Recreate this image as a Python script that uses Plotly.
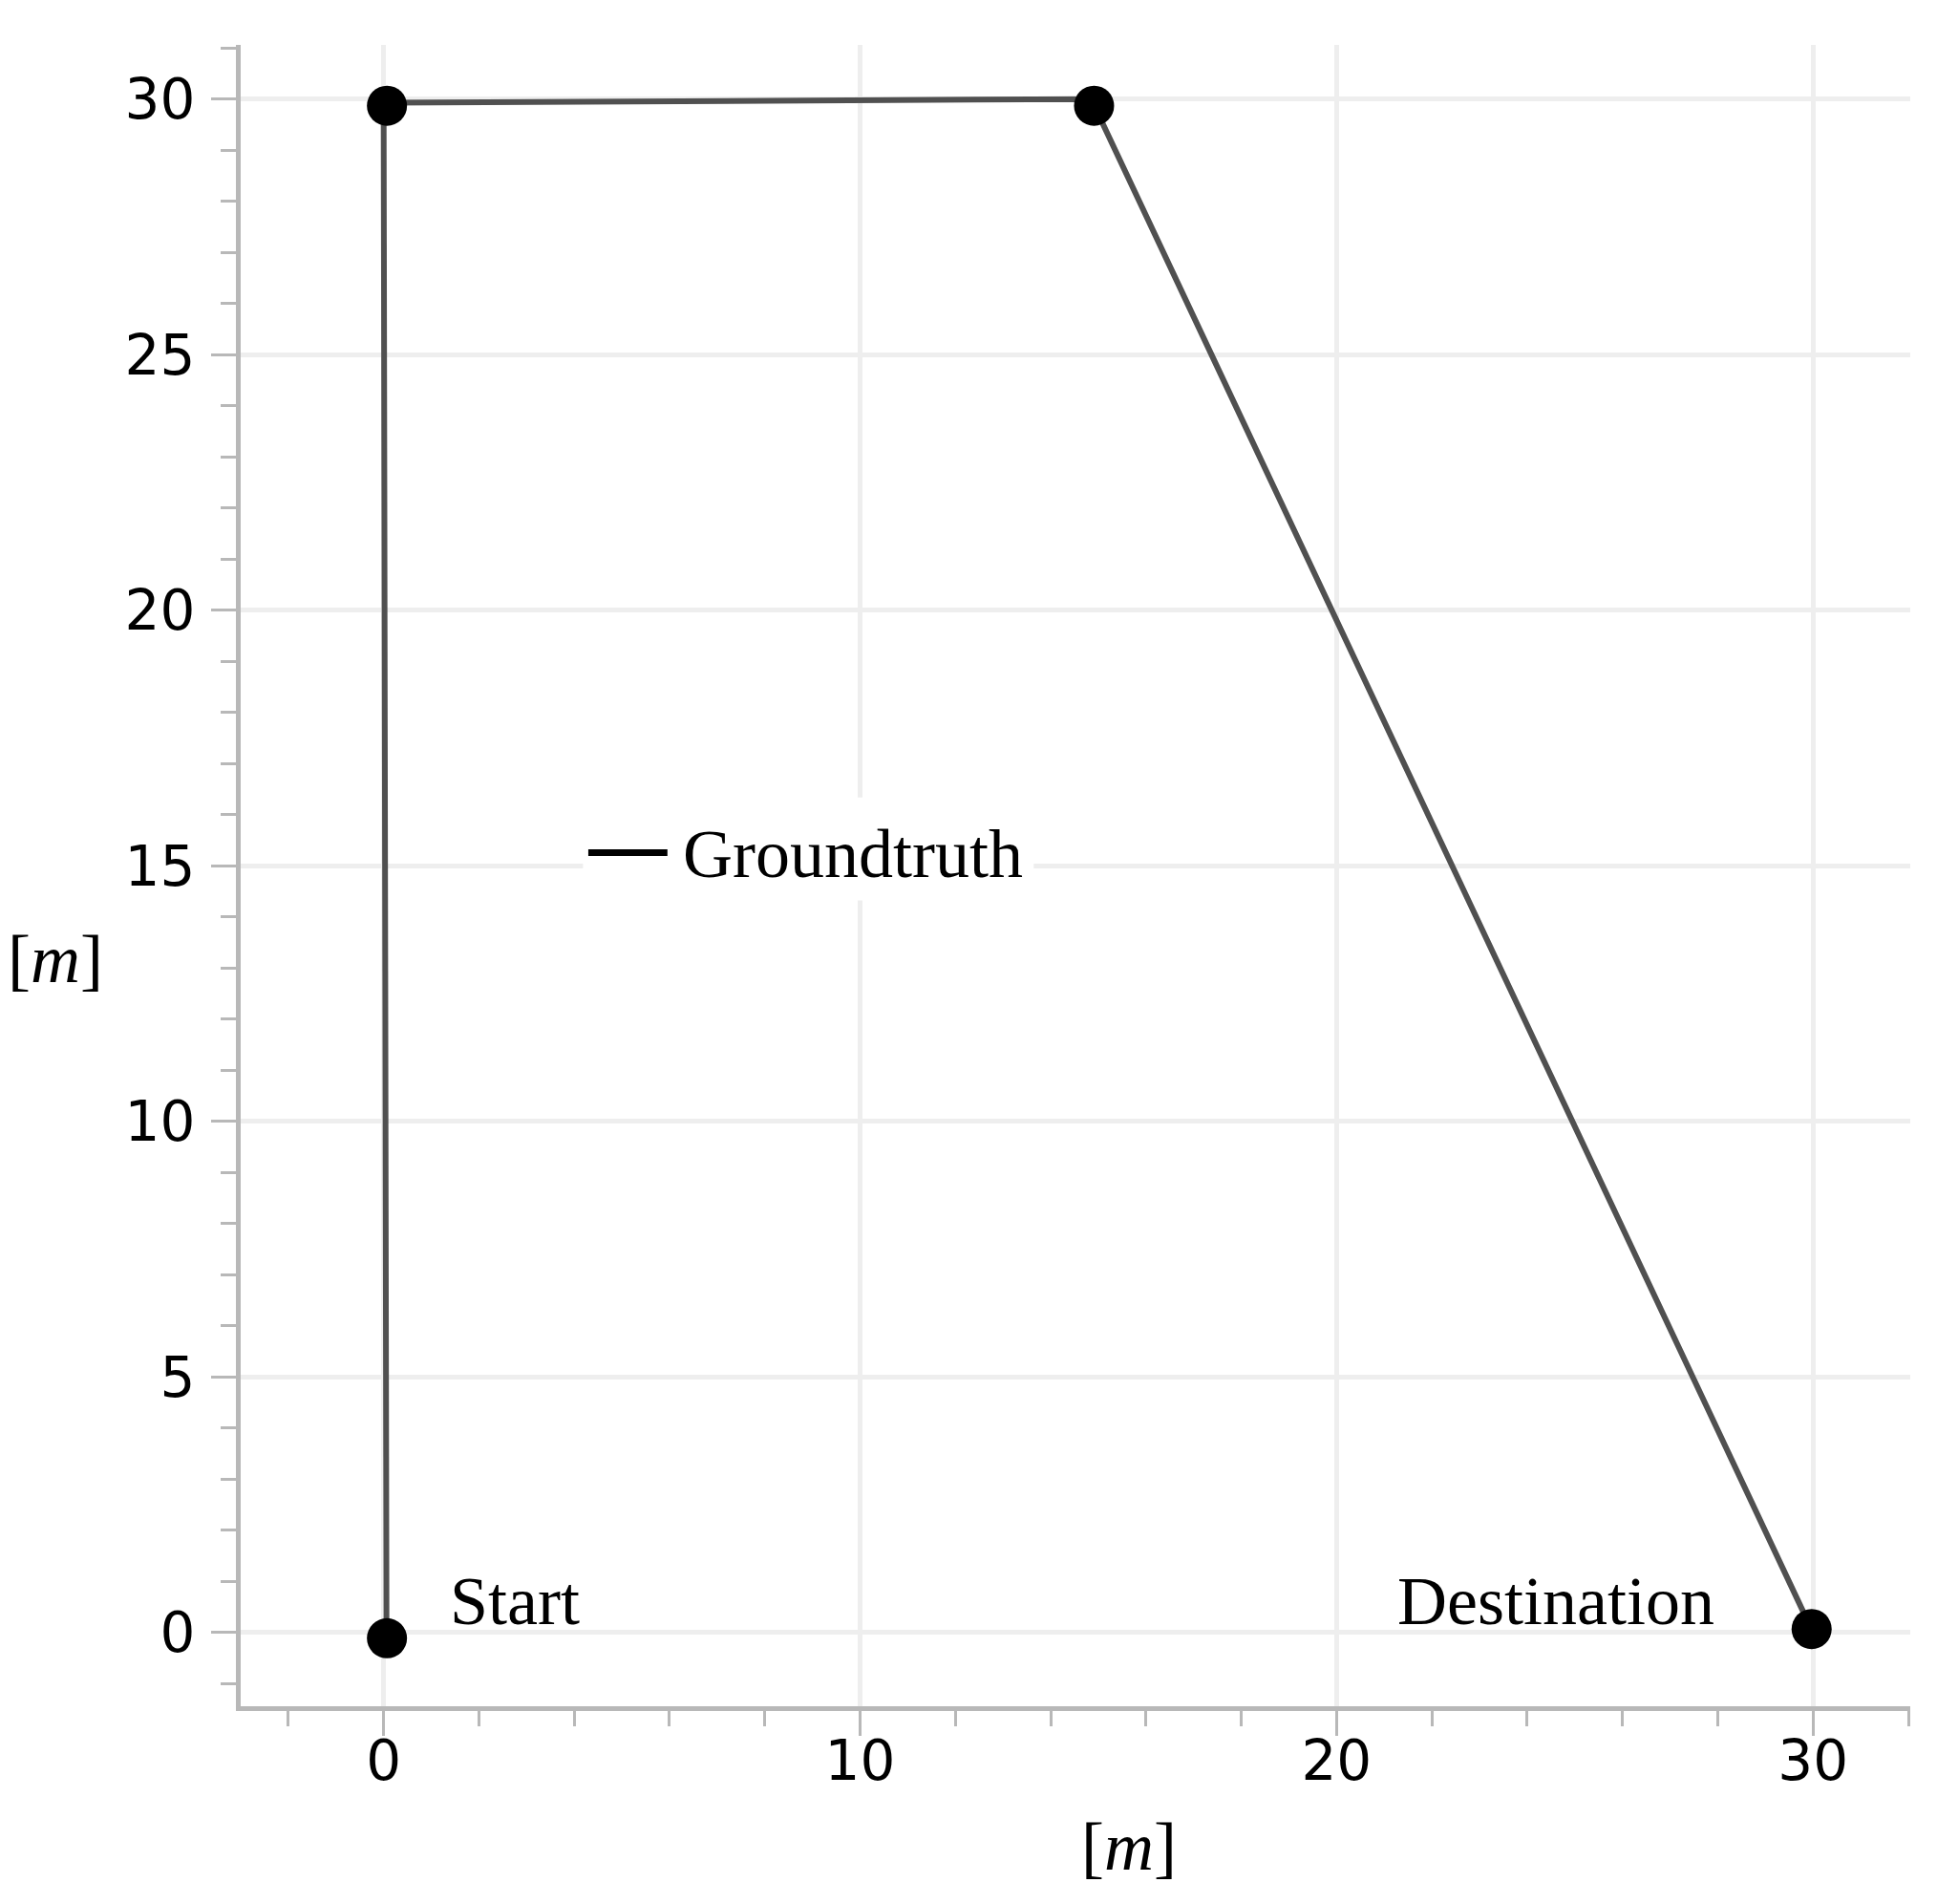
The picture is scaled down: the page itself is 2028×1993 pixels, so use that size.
import plotly.graph_objects as go

# Ground-truth path (metres)
path_x = [0.06, 0.0, 14.85, 29.95]
path_y = [0.0, 29.93, 30.0, 0.1]

# Waypoint markers
point_x = [0.07, 0.07, 14.91, 29.97]
point_y = [-0.11, 29.87, 29.87, 0.07]

x_ticks = [0, 10, 20, 30]
y_ticks = [0, 5, 10, 15, 20, 25, 30]

legend_label = "Groundtruth"
start_label = "Start"
dest_label = "Destination"
axis_title = "[<i>m</i>]"

LINE_COLOR = "#505050"
AXIS_COLOR = "#b8b8b8"
GRID_COLOR = "#eeeeee"
SERIF = "Liberation Serif, Times New Roman, serif"
SANS = "DejaVu Sans, sans-serif"

fig = go.Figure()
fig.add_trace(go.Scatter(x=path_x, y=path_y, mode="lines",
                         line=dict(color=LINE_COLOR, width=6),
                         showlegend=False, hoverinfo="skip"))
fig.add_trace(go.Scatter(x=point_x, y=point_y, mode="markers",
                         marker=dict(color="black", size=42),
                         showlegend=False))

axis_common = dict(
    showline=True, linecolor=AXIS_COLOR, linewidth=5,
    ticks="outside", ticklen=26, tickwidth=3, tickcolor=AXIS_COLOR,
    showgrid=True, gridcolor=GRID_COLOR, gridwidth=5,
    zeroline=False,
    tickfont=dict(family=SANS, size=58, color="black"),
)

fig.update_xaxes(range=[-3.0, 32.04], tickvals=x_ticks,
                 minor=dict(dtick=2, tick0=0, ticks="outside", ticklen=16,
                            tickwidth=3, tickcolor=AXIS_COLOR, showgrid=False),
                 ticklabelstandoff=-24, **axis_common)
fig.update_yaxes(range=[-1.44, 31.06], tickvals=y_ticks,
                 minor=dict(dtick=1, tick0=0, ticks="outside", ticklen=16,
                            tickwidth=3, tickcolor=AXIS_COLOR, showgrid=False),
                 ticklabelstandoff=5, **axis_common)

# legend box (white background), key line and label
fig.add_shape(type="rect", xref="paper", yref="paper",
              x0=0.205, x1=0.475, y0=0.485, y1=0.547,
              fillcolor="white", line=dict(width=0), layer="above")
fig.add_shape(type="line", xref="paper", yref="paper",
              x0=0.2082, x1=0.2556, y0=0.5138, y1=0.5138,
              line=dict(color="black", width=7), layer="above")
fig.add_annotation(text=legend_label, xref="paper", yref="paper",
                   x=0.2640, y=0.5132, xanchor="left", yanchor="middle",
                   showarrow=False, font=dict(family=SERIF, size=72, color="black"))

fig.add_annotation(text=start_label, x=2.76, y=0.62, xanchor="center", yanchor="middle",
                   showarrow=False, font=dict(family=SERIF, size=72, color="black"))
fig.add_annotation(text=dest_label, x=24.6, y=0.62, xanchor="center", yanchor="middle",
                   showarrow=False, font=dict(family=SERIF, size=72, color="black"))

# axis titles
fig.add_annotation(text=axis_title, xref="paper", yref="paper",
                   x=0.532, y=-0.0844, xanchor="center", yanchor="middle",
                   showarrow=False, font=dict(family=SERIF, size=72, color="black"))
fig.add_annotation(text=axis_title, xref="paper", yref="paper",
                   x=-0.111, y=0.4495, xanchor="center", yanchor="middle",
                   showarrow=False, font=dict(family=SERIF, size=72, color="black"))

fig.update_layout(
    width=2028, height=1993,
    margin=dict(l=244, r=36, t=39, b=215),
    paper_bgcolor="white", plot_bgcolor="white",
    showlegend=False,
)

fig.write_html("out.html")
